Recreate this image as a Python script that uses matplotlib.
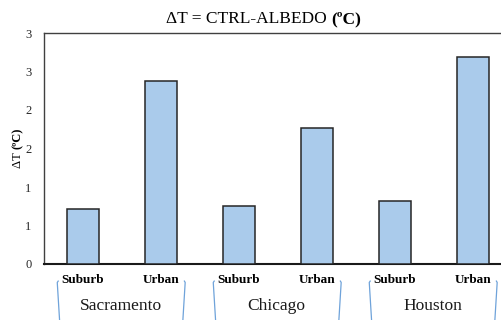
import matplotlib
matplotlib.use("Agg")
import matplotlib.pyplot as plt
import matplotlib.transforms as mtransforms
from matplotlib.lines import Line2D
import numpy as np

plt.rcParams['font.family'] = ['Liberation Serif', 'DejaVu Serif']

categories = ["Suburb", "Urban", "Suburb", "Urban", "Suburb", "Urban"]
cities = ["Sacramento", "Chicago", "Houston"]
values = [0.72, 2.38, 0.75, 1.77, 0.82, 2.69]
yticks = [0, 0.5, 1.0, 1.5, 2.0, 2.5, 3.0]
ytick_labels = ["0", "1", "1", "2", "2", "3", "3"]

W, H = 502, 320
fig = plt.figure(figsize=(W / 100, H / 100), dpi=100)
ax = fig.add_axes([44 / W, 1 - 264 / H, 468 / W, 231 / H])

x = np.arange(len(categories))
ax.bar(x, values, width=0.405, color="#AACBEB", edgecolor="#262626", linewidth=1.1, zorder=3)

ax.set_xlim(-0.5, 5.5)
ax.set_ylim(0, 3)
ax.set_yticks(yticks)
ax.set_yticklabels(ytick_labels, fontsize=9, color="#262626")
ax.set_xticks(x)
ax.set_xticklabels(categories, fontsize=9.5, fontweight="bold", color="#000000")
ax.tick_params(axis="y", length=0, pad=9)
ax.tick_params(axis="x", length=0, pad=7)

for s in ["top", "left", "right"]:
    ax.spines[s].set_color("#404040")
    ax.spines[s].set_linewidth(1.0)
ax.spines["bottom"].set_color("#1a1a1a")
ax.spines["bottom"].set_linewidth(1.5)

# group brackets and city labels
trans = mtransforms.blended_transform_factory(ax.transData, ax.transAxes)
bcol = "#6FA3DA"
for i, city in enumerate(cities):
    c0 = 2 * i
    ax.add_line(Line2D([c0 - 0.318, c0 - 0.33, c0 - 0.30], [-0.074, -0.080, -0.245],
                       transform=trans, color=bcol, lw=0.9, clip_on=False))
    ax.add_line(Line2D([c0 + 1.30, c0 + 1.31, c0 + 1.28], [-0.074, -0.080, -0.245],
                       transform=trans, color=bcol, lw=0.9, clip_on=False))
    ax.text(c0 + 0.48, -0.18, city, transform=trans, ha="center", va="center",
            fontsize=12.5, color="#1a1a1a")

fig.canvas.draw()
renderer = fig.canvas.get_renderer()

# title with bold unit part
ty = 1 - 23 / H
t1 = fig.text(0, ty, "ΔT = CTRL-ALBEDO ", fontsize=12.5, ha="left", va="baseline")
t2 = fig.text(0, ty, "(ºC)", fontsize=12.5, fontweight="bold", ha="left", va="baseline")
w1 = t1.get_window_extent(renderer).width
w2 = t2.get_window_extent(renderer).width
cx = 264
t1.set_x((cx - (w1 + w2) / 2) / W)
t2.set_x((cx - (w1 + w2) / 2 + w1) / W)

# y label with bold unit part (rotated)
lx = 21 / W
l1 = fig.text(lx, 0, "ΔT ", fontsize=9, rotation=90, ha="left", va="bottom",
              rotation_mode="anchor")
l2 = fig.text(lx, 0, "(ºC)", fontsize=9, fontweight="bold", rotation=90, ha="left",
              va="baseline", rotation_mode="anchor")
l1.set_va("baseline")
h1 = l1.get_window_extent(renderer).height
h2 = l2.get_window_extent(renderer).height
cy = H - 148
l1.set_y((cy - (h1 + h2) / 2) / H)
l2.set_y((cy - (h1 + h2) / 2 + h1) / H)

fig.savefig("out.png", dpi=100)
